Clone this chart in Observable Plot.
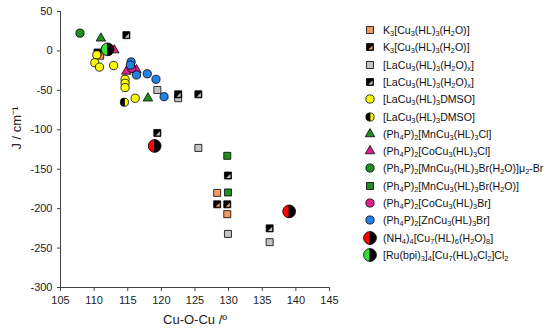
<!DOCTYPE html>
<html>
<head>
<meta charset="utf-8">
<script src="https://cdn.jsdelivr.net/npm/d3@7"></script>
<script src="https://cdn.jsdelivr.net/npm/@observablehq/plot@0.6"></script>
<style>
  html, body { margin: 0; padding: 0; background: #fff; }
  #wrap { position: relative; width: 550px; height: 335px; font-family: "Liberation Sans", Arial, sans-serif; }
  #legend { position: absolute; left: 0; top: 0; }
  .row { position: absolute; height: 16px; display: flex; align-items: center; white-space: nowrap; font-size: 10.6px; color: #111; }
  .row sub { font-size: 70%; vertical-align: -0.3em; line-height: 0; }
  .row svg { position: absolute; left: -20px; top: 1px; overflow: visible; }
</style>
</head>
<body>
<div id="wrap"><div id="chart"></div><div id="legend"></div></div>
<script>
// ---- data ----
const xTicks = [105, 110, 115, 120, 125, 130, 135, 140, 145];
const yTicks = [-300, -250, -200, -150, -100, -50, 0, 50];
const xTitle = "Cu-O-Cu /º";
const yTitle = "J / cm⁻¹";

const seriesNames = [
  "K<sub>3</sub>[Cu<sub>3</sub>(HL)<sub>3</sub>(H<sub>2</sub>O)]",
  "K<sub>3</sub>[Cu<sub>3</sub>(HL)<sub>3</sub>(H<sub>2</sub>O)]",
  "[LaCu<sub>3</sub>(HL)<sub>3</sub>(H<sub>2</sub>O)<sub>x</sub>]",
  "[LaCu<sub>3</sub>(HL)<sub>3</sub>(H<sub>2</sub>O)<sub>x</sub>]",
  "[LaCu<sub>3</sub>(HL)<sub>3</sub>DMSO]",
  "[LaCu<sub>3</sub>(HL)<sub>3</sub>DMSO]",
  "(Ph<sub>4</sub>P)<sub>2</sub>[MnCu<sub>3</sub>(HL)<sub>3</sub>Cl]",
  "(Ph<sub>4</sub>P)<sub>2</sub>[CoCu<sub>3</sub>(HL)<sub>3</sub>Cl]",
  "(Ph<sub>4</sub>P)<sub>2</sub>[MnCu<sub>3</sub>(HL)<sub>3</sub>Br(H<sub>2</sub>O)]μ<sub>2</sub>-Br",
  "(Ph<sub>4</sub>P)<sub>2</sub>[MnCu<sub>3</sub>(HL)<sub>3</sub>Br(H<sub>2</sub>O)]",
  "(Ph<sub>4</sub>P)<sub>2</sub>[CoCu<sub>3</sub>(HL)<sub>3</sub>Br]",
  "(Ph<sub>4</sub>P)<sub>2</sub>[ZnCu<sub>3</sub>(HL)<sub>3</sub>Br]",
  "(NH<sub>4</sub>)<sub>4</sub>[Cu<sub>7</sub>(HL)<sub>6</sub>(H<sub>2</sub>O)<sub>8</sub>]",
  "[Ru(bpi)<sub>3</sub>]<sub>4</sub>[Cu<sub>7</sub>(HL)<sub>6</sub>Cl<sub>2</sub>]Cl<sub>2</sub>"
];
const seriesColors = ["#f59a5e", "#f59a5e", "#c4c4c4", "#c4c4c4", "#ffff00", "#ffff00",
  "#1f8f1f", "#e0208c", "#1f8f1f", "#1f8f1f", "#e0208c", "#2382e8", "#ff0000", "#33e033"];
const seriesShapes = ["square", "splitSquare", "square", "splitSquare", "circle", "halfCircle",
  "triangle", "triangle", "circle", "square", "circle", "circle", "bigCircle", "bigCircle"];

const seriesX = [
  [110.9, 128.3, 129.8],
  [110.5, 128.3, 129.8],
  [119.4, 122.5, 125.5, 129.9, 136.1],
  [114.8, 122.5, 125.5, 119.4, 129.9, 136.1],
  [110.4, 110.1, 110.8, 112.9, 114.6, 114.6, 114.6, 116.1],
  [114.5],
  [111.0, 118.0],
  [113.0, 114.8, 116.3],
  [107.9],
  [129.8, 129.9],
  [115.6],
  [115.5, 115.4, 116.3, 117.9, 119.2, 120.4],
  [119.0, 139.0],
  [112.0]
];
const seriesY = [
  [-6, -180, -207],
  [-2, -194.5, -194.5],
  [-49.5, -60, -123, -232, -242.5],
  [20, -55, -55, -104, -158, -225],
  [-5, -15, -20.5, -18.5, -36, -41, -46.5, -60],
  [-65],
  [16, -60],
  [1, -26, -24],
  [22.5],
  [-133, -179.5],
  [-22],
  [-14, -18, -30.5, -29, -36, -58],
  [-120.5, -203.5],
  [2]
];

// ---- custom symbols ----
const halfLeft = {draw(c, size) { const r = Math.sqrt(size / Math.PI); c.moveTo(0, -r); c.arc(0, 0, r, -Math.PI / 2, Math.PI / 2, true); c.closePath(); }};
const halfRight = {draw(c, size) { const r = Math.sqrt(size / Math.PI); c.moveTo(0, -r); c.arc(0, 0, r, -Math.PI / 2, Math.PI / 2, false); c.closePath(); }};
const cornerTri = {draw(c, size) { const s = Math.sqrt(size) / 2; c.moveTo(s * 0.72, -s * 0.45); c.lineTo(s * 0.72, s * 0.72); c.lineTo(-s * 0.45, s * 0.72); c.closePath(); }};

const R = {square: 3.95, circle: 4.1, triangle: 3.5, big: 6.4};
const SW = 0.8;

function pts(i) { return seriesX[i].map((x, j) => ({x, y: seriesY[i][j]})); }

function seriesMarks(i) {
  const d = pts(i), col = seriesColors[i], sh = seriesShapes[i];
  const base = {x: "x", y: "y", stroke: "#000", strokeWidth: SW};
  switch (sh) {
    case "square": return [Plot.dot(d, {...base, symbol: "square", r: R.square, fill: col})];
    case "splitSquare": return [
      Plot.dot(d, {...base, symbol: "square", r: R.square, fill: "#000"}),
      Plot.dot(d, {x: "x", y: "y", symbol: cornerTri, r: R.square, fill: col, stroke: "none"})];
    case "circle": return [Plot.dot(d, {...base, symbol: "circle", r: R.circle, fill: col})];
    case "triangle": return [Plot.dot(d, {...base, symbol: "triangle", r: R.triangle, fill: col})];
    case "halfCircle": return [
      Plot.dot(d, {...base, symbol: halfLeft, r: R.circle, fill: "#000"}),
      Plot.dot(d, {...base, symbol: halfRight, r: R.circle, fill: col})];
    case "bigCircle": return [
      Plot.dot(d, {...base, symbol: halfLeft, r: R.big, fill: col}),
      Plot.dot(d, {...base, symbol: halfRight, r: R.big, fill: "#000"})];
  }
}

const axisColor = "#444";
const chart = Plot.plot({
  width: 550, height: 335,
  marginLeft: 60, marginRight: 221, marginTop: 11, marginBottom: 48,
  x: {domain: [105, 145]},
  y: {domain: [-300, 50]},
  style: {fontFamily: "'Liberation Sans', Arial, sans-serif", fontSize: "11px", color: "#222", background: "white", overflow: "visible"},
  marks: [
    Plot.axisX({ticks: xTicks, tickSize: 4, tickPadding: 5, label: null, tickFormat: d => String(d), stroke: axisColor}),
    Plot.axisY({ticks: yTicks, tickSize: 3, tickPadding: 5, label: null, tickFormat: d => String(d), stroke: axisColor}),
    Plot.ruleX([105], {stroke: axisColor}),
    Plot.ruleY([-300], {stroke: axisColor}),
    Plot.text([yTitle], {frameAnchor: "left", rotate: -90, dx: -44, fontSize: 13, fill: "#222"}),
    Plot.text([xTitle], {frameAnchor: "bottom", dy: 36, fontSize: 13, fill: "#222"}),
    ...seriesNames.flatMap((_, i) => seriesMarks(i))
  ]
});
document.getElementById("chart").appendChild(chart);

// ---- legend ----
const legend = d3.select("#legend");
const rowY0 = 30, rowStep = 17.3, textX = 383;
function symPath(sym, r) {
  const p = d3.path();
  const size = Math.PI * r * r;
  sym.draw(p, size);
  return p.toString();
}
seriesNames.forEach((name, i) => {
  const row = legend.append("div").attr("class", "row")
    .style("left", textX + "px").style("top", (rowY0 + i * rowStep - 8) + "px");
  const svg = row.append("svg").attr("width", 14).attr("height", 14).attr("viewBox", "-7 -7 14 14");
  const col = seriesColors[i], sh = seriesShapes[i];
  const add = (sym, r, fill, stroke) => svg.append("path").attr("d", symPath(sym, r))
    .attr("fill", fill).attr("stroke", stroke).attr("stroke-width", SW);
  if (sh === "square") add(d3.symbolSquare, R.square, col, "#000");
  else if (sh === "splitSquare") { add(d3.symbolSquare, R.square, "#000", "#000"); add(cornerTri, R.square, col, "none"); }
  else if (sh === "circle") add(d3.symbolCircle, R.circle, col, "#000");
  else if (sh === "triangle") add(d3.symbolTriangle, R.triangle, col, "#000");
  else if (sh === "halfCircle") { add(halfLeft, R.circle, "#000", "#000"); add(halfRight, R.circle, col, "#000"); }
  else if (sh === "bigCircle") { add(halfLeft, R.big, col, "#000"); add(halfRight, R.big, "#000", "#000"); }
  row.append("span").html(name);
});
</script>
</body>
</html>
